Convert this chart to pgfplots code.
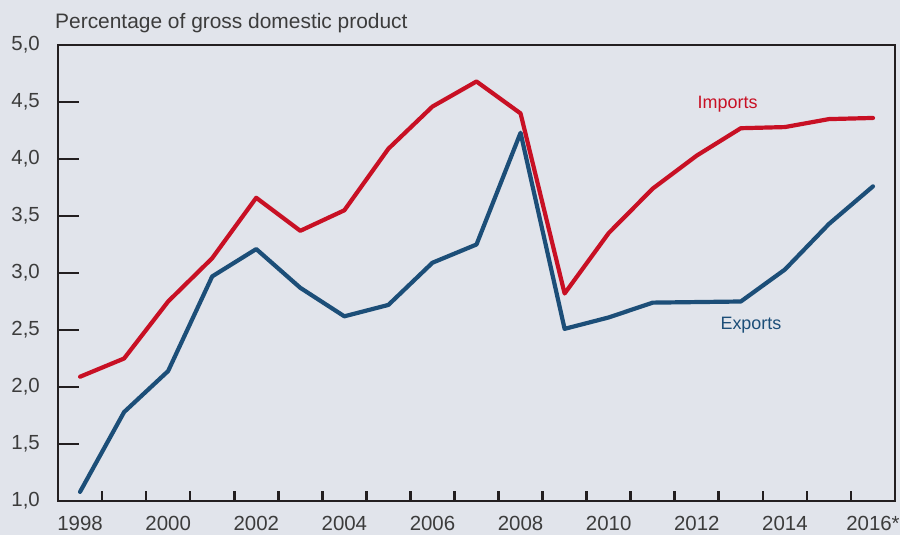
\documentclass[border=0pt]{standalone}
\usepackage{pgfplots}
\pgfplotsset{compat=1.18}
\usepackage{fontspec}
\setmainfont{Liberation Sans}
\definecolor{bg}{RGB}{225,228,235}
\definecolor{impred}{RGB}{200,16,36}
\definecolor{expblue}{RGB}{28,78,120}
\definecolor{txt}{RGB}{60,60,60}
\definecolor{axisc}{RGB}{35,31,32}
\begin{document}
\begin{tikzpicture}
\fill[bg] (-58bp,-34bp) rectangle (842bp,501bp);
\begin{axis}[
  at={(0,0)}, anchor=south west, scale only axis,
  width=837bp, height=456bp,
  xmin=-0.5, xmax=18.5, ymin=1, ymax=5,
  clip=false,
  axis line style={axisc, line width=2.6bp},
  tick align=inside,
  tick pos=left,
  xtick={0.5,1.5,...,18.5},
  xticklabels={1998,,2000,,2002,,2004,,2006,,2008,,2010,,2012,,2014,,2016*},
  major tick length=10bp,
  ytick={1,1.5,...,5},
  tick style={axisc, line width=2.6bp},
  /pgf/number format/.cd, use comma, fixed, fixed zerofill, precision=1, assume math mode=true,
  /pgfplots/.cd,
  yticklabel style={font=\fontsize{20.5}{24}\selectfont, text=txt, anchor=east, inner sep=0pt, xshift=-18bp},
  xticklabel style={font=\fontsize{20.5}{24}\selectfont, text=txt, anchor=north, inner sep=0pt, yshift=-15bp, xshift=-22bp},
]
% x = year - 1998
\addplot[impred, line width=4.2bp, line join=round, line cap=round, mark=none] coordinates {
(0,2.09) (1,2.25) (2,2.75) (3,3.13) (4,3.66) (5,3.37) (6,3.55)
(7,4.09) (8,4.46) (9,4.68) (10,4.40) (11,2.82) (12,3.35) (13,3.74)
(14,4.03) (15,4.27) (16,4.28) (17,4.35) (18,4.36)};
\addplot[expblue, line width=4.2bp, line join=round, line cap=round, mark=none] coordinates {
(0,1.08) (1,1.78) (2,2.14) (3,2.97) (4,3.21) (5,2.87) (6,2.62)
(7,2.72) (8,3.09) (9,3.25) (10,4.23) (11,2.51) (12,2.61) (13,2.74)
(14,2.745) (15,2.75) (16,3.03) (17,3.43) (18,3.76)};
% inward y ticks (21bp long) drawn as short segments from the left edge
\addplot[axisc, line width=2.8bp, mark=none, forget plot] coordinates {(-0.5,1.5) (-0.0233,1.5)};
\addplot[axisc, line width=2.8bp, mark=none, forget plot] coordinates {(-0.5,2.0) (-0.0233,2.0)};
\addplot[axisc, line width=2.8bp, mark=none, forget plot] coordinates {(-0.5,2.5) (-0.0233,2.5)};
\addplot[axisc, line width=2.8bp, mark=none, forget plot] coordinates {(-0.5,3.0) (-0.0233,3.0)};
\addplot[axisc, line width=2.8bp, mark=none, forget plot] coordinates {(-0.5,3.5) (-0.0233,3.5)};
\addplot[axisc, line width=2.8bp, mark=none, forget plot] coordinates {(-0.5,4.0) (-0.0233,4.0)};
\addplot[axisc, line width=2.8bp, mark=none, forget plot] coordinates {(-0.5,4.5) (-0.0233,4.5)};
\node[anchor=base, text=impred, font=\fontsize{18}{22}\selectfont, inner sep=0pt] at (axis cs:14.7,4.44) {Imports};
\node[anchor=base, text=expblue, font=\fontsize{18}{22}\selectfont, inner sep=0pt] at (axis cs:15.23,2.50) {Exports};
\end{axis}
\node[anchor=base west, text=txt, font=\fontsize{21}{25}\selectfont, inner sep=0pt] at (-3bp,472bp) {Percentage of gross domestic product};
\pgfresetboundingbox
\useasboundingbox (-58bp,-34bp) rectangle (842bp,501bp);
\end{tikzpicture}
\end{document}
